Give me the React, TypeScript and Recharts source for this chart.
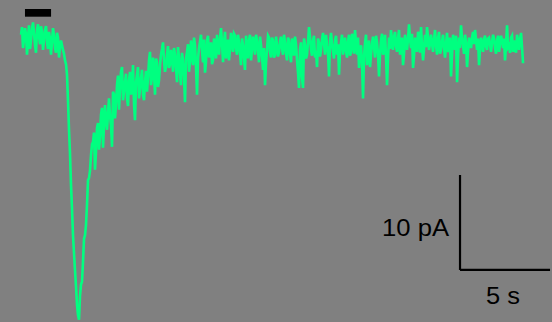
import React from "react";
import { LineChart, Line, XAxis, YAxis, ReferenceLine, ReferenceArea } from "recharts";

// Recorded current trace (pA), sampled every SAMPLE_INTERVAL_S seconds
const SAMPLE_INTERVAL_S = 0.05556;
const currentPA: number[] = [
  // pre-stimulus baseline
  -0.5, 0.3, -1.9, -1.0, 0.2, -0.4, -2.6, -0.8, 0.5, -2.0, -1.1, 0.1, 0.8, -0.3, -1.6, -2.4, 0, 0.6, -0.6, -1.5,
  0.4, -0.2, -2.1, -1.0, 0, 0.4, -1.3, -2.0, -0.2, -0.9, -2.6, -1.2, 0.2, -0.6, -1.9, -2.4, -0.3, -0.8, -2.9, -1.8,
  -1.1, -1.6,
  // inward current peak
  -2.1, -2.5, -3.2, -3.6, -4.7, -7.5, -10.5, -13.0, -16.3, -18.8, -21.6, -23.5, -25.3, -27.0, -28.9, -30.0, -30.5,
  -28.0, -26.8, -26.5, -24.4, -22.0, -21.6, -20.5, -18.4, -15.8, -15.6, -14.8, -13.2, -12.0, -11.8, -10.8, -14.7,
  -12.8, -10.3, -9.8, -12.6, -11.2, -8.9, -8.2, -12.4, -10.0, -7.9, -9.5, -10.5, -8.8, -7.2, -9.0, -10.0, -12.3,
  -6.5, -6.8, -9.3, -7.8,
  // recovery
  -5.8, -4.8, -8.4, -6.2, -4.4, -3.9, -7.4, -6.5, -5.5, -4.6, -7.2, -8.0, -5.3, -4.4, -6.8, -5.9, -3.7, -7.8, -9.5,
  -5.5, -4.7, -3.9, -7.2, -6.2, -5.1, -4.2, -6.8, -7.4, -5.5, -4.3, -6.5, -5.0, -3.2, -2.3, -5.8, -4.9, -2.9, -4.5,
  -6.8, -3.0, -3.4, -6.0, -5.3, -3.7, -2.6, -2.0, -1.3, -3.2, -4.4, -3.9, -2.6, -1.7, -4.0, -3.6, -2.1, -3.0,
  -4.4, -1.9, -2.6, -4.0, -5.5, -1.8, -2.9, -4.6, -5.8, -2.4, -3.2, -4.8, -7.6, -3.0, -2.3, -1.5, -4.4, -3.3, -1.1,
  -2.6, -3.7, -0.8, -1.6, -3.9, -6.8, -3.0, -1.9, -1.2, -0.5, -2.2, -3.4, -1.0, -4.5, -3.3, -1.1, -0.6, -2.9, -2.0,
  -1.3, -3.6, -3.2, -0.9, -1.6, -3.0, -0.5, -1.8, -2.6, -0.9, 0.2, -1.4, -3.4, -1.3, -0.2, -3.0, -2.1, -1.0, -3.2,
  -2.0, -0.3, -1.5, -2.3, -0.4, -0.6, -2.0, -2.6, -0.5, -1.3, -2.4, -3.7, -0.9, -1.6, -3.0, -4.2, -0.6, -1.9, -3.0,
  -1.1, -0.5, -3.2, -2.0, -0.7, -1.6, -2.6, -0.5, -1.1, -2.2, -3.4, -0.7,
  // steady state
  -1.6, -2.8, -4.2, -1.9, -5.8, -3.5, -2.1, -0.6, -0.8, -2.3, -2.9, -0.8, -1.1, -2.9, -2.6, -0.7, -1.6, -2.8, -2.3,
  -1.2, -0.7, -1.9, -2.6, -0.5, -1.3, -2.4, -3.2, -0.8, -1.1, -2.6, -3.4, -0.9, -1.6, -2.7, -0.7, -1.5, -3.2, -4.5,
  -6.1, -2.0, -1.3, -5.0, -6.1, -0.9, -1.6, -3.0, -2.6, -1.2, 0.3, -0.8, -2.1, -2.7, -1.1, -0.6, -2.9, -2.2, -3.9,
  -0.9, -1.3, -2.8, -2.1, -1.0, -0.3, -1.4, -2.6, -0.5, -1.6, -2.4, -4.9, -1.2, -0.3, -1.5, -2.3, -3.0, -1.1, -0.6,
  -2.6, -1.5, -4.7, -2.2, -1.3, -0.5,
  -2.6, -1.7, -0.8, -2.2, -2.9, -1.2, -0.5, -2.7, -2.3, -0.4, -1.1, -2.5, 0, -1.4, -2.6, -0.8, -4.0, -2.3, -1.6,
  -3.5, -7.2, -2.9, -1.3, -0.5, -3.7, -2.8, -1.1, -3.9, -2.6, -1.4, -0.7, -1.8, -2.9, -0.6, -1.3, -2.6, -4.9, -2.6,
  -1.1, -0.4, -2.6, -1.9, -0.5, -2.8, -5.8, -3.0, -0.8, -2.0, 0, -1.2, -2.1, -0.7, -0.2, -1.7, -2.3, -0.9, 0, -2.6,
  -1.6, -0.8, -3.7, -2.5, -0.5, -1.3, -2.1, -0.9, 0.6, -1.0, -1.9, -0.4, -4.0, -2.7, -0.8, -1.5, -2.3, -0.2, -0.5,
  -2.4, 0.3, -1.7, -3.2, -2.0, -0.5, -1.8, 0.3, -0.8, -2.1, -1.4,
  -0.5, -1.4, -2.3, -1.0, 0, -1.6, -2.6, -0.9, -0.2, -2.5, -2.1, -1.2, -0.5, -1.8, -2.9, -1.5, -0.3, -2.3, -1.9,
  -0.8, -4.9, -2.6, -0.5, -1.3, -2.1, -0.6, -5.5, -2.8, -0.8, -1.9, 0.5, -0.9, -1.6, -2.5, -0.5, -1.3, -3.9, -2.3,
  -0.8, -1.4, -1.9, -0.8, -0.2, -1.5, 0, -1.0, -2.1, -0.9, -3.7, -2.0, -0.8, -1.6, -2.3, -1.0, -0.6, -1.7, -2.1,
  -0.9, -0.8, -1.5, -2.3, -1.3, -0.5, -0.9, -1.9, -2.5, -1.1, -0.6, -2.3, -1.4, -0.6, -1.1, -1.9, -0.9, -3.2, -1.5,
  0.5, -1.8, -1.6, -2.4, -0.8, -0.6, -2.3, -1.1, -1.9, -2.4, -0.5, -1.2, -2.1, -1.0, -0.3, -1.8, -3.5,
];

// Stimulus bar (s)
const STIM_START_S = 0.22;
const STIM_END_S = 1.67;
const STIM_LEVEL_LOW = 1.4;
const STIM_LEVEL_HIGH = 2.21;

// Scale bars
const SCALE_X_START_S = 24.39;
const SCALE_TIME_LEN_S = 5;
const SCALE_Y_BASE_PA = -25.26;
const SCALE_CURRENT_LEN_PA = 10;
const SCALE_TIME_LABEL = "5 s";
const SCALE_CURRENT_LABEL = "10 pA";

// Axis domains
const X_DOMAIN: [number, number] = [-1.1667, 29.5];
const Y_DOMAIN: [number, number] = [-30.737, 3.158];

const data = currentPA.map((v, i) => ({ t: i * SAMPLE_INTERVAL_S, v }));

const FONT = "'Liberation Sans', Arial, sans-serif";

const CurrentLabel = (props: any) => {
  const vb = props.viewBox || {};
  return (
    <text
      x={vb.x - 11}
      y={vb.y + 61}
      textAnchor="end"
      fontFamily={FONT}
      fontSize={23}
      fill="#000"
      textLength={67}
      lengthAdjust="spacingAndGlyphs"
    >
      {SCALE_CURRENT_LABEL}
    </text>
  );
};

const TimeLabel = (props: any) => {
  const vb = props.viewBox || {};
  return (
    <text
      x={vb.x + 43}
      y={vb.y + 34}
      textAnchor="middle"
      fontFamily={FONT}
      fontSize={23}
      fill="#000"
      textLength={34}
      lengthAdjust="spacingAndGlyphs"
    >
      {SCALE_TIME_LABEL}
    </text>
  );
};

export default function App() {
  return (
    <div style={{ position: "absolute", left: 0, top: 0, width: 552, height: 322, background: "#808080" }}>
      <LineChart width={552} height={322} data={data} margin={{ top: 0, right: 0, bottom: 0, left: 0 }}>
        <XAxis dataKey="t" type="number" domain={X_DOMAIN} hide allowDataOverflow />
        <YAxis type="number" domain={Y_DOMAIN} hide allowDataOverflow />
        <ReferenceArea
          x1={STIM_START_S}
          x2={STIM_END_S}
          y1={STIM_LEVEL_LOW}
          y2={STIM_LEVEL_HIGH}
          fill="#000"
          fillOpacity={1}
          stroke="none"
        />
        <Line
          dataKey="v"
          type="linear"
          stroke="#00ff80"
          strokeWidth={2.6}
          dot={false}
          activeDot={false}
          isAnimationActive={false}
        />
        <ReferenceLine
          segment={[
            { x: SCALE_X_START_S, y: SCALE_Y_BASE_PA },
            { x: SCALE_X_START_S, y: SCALE_Y_BASE_PA + SCALE_CURRENT_LEN_PA },
          ]}
          stroke="#000"
          strokeWidth={2.2}
          label={<CurrentLabel />}
        />
        <ReferenceLine
          segment={[
            { x: SCALE_X_START_S, y: SCALE_Y_BASE_PA },
            { x: SCALE_X_START_S + SCALE_TIME_LEN_S, y: SCALE_Y_BASE_PA },
          ]}
          stroke="#000"
          strokeWidth={2.2}
          label={<TimeLabel />}
        />
      </LineChart>
    </div>
  );
}
